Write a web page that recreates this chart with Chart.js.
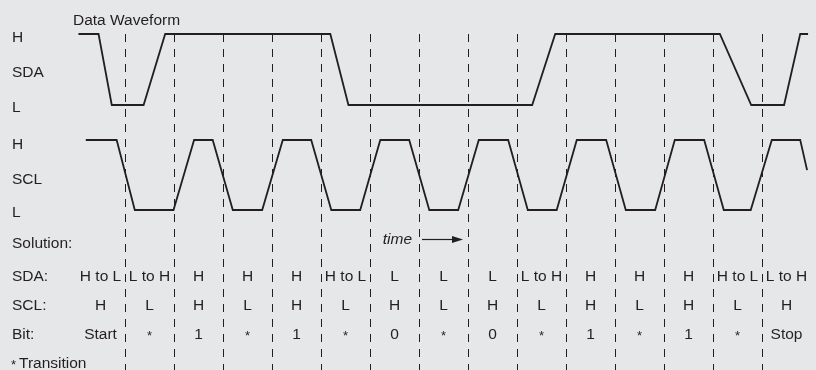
<!DOCTYPE html>
<html><head><meta charset="utf-8">
<style>html,body{margin:0;padding:0;background:#e6e7e9;}#wrap{width:816px;height:370px;position:relative;}</style>
<script src="https://cdn.jsdelivr.net/npm/chart.js@4.4.1/dist/chart.umd.min.js"></script>
</head><body><div id="wrap"><canvas id="c" width="816" height="370"></canvas></div>
<script>
// ---- data (time in bit-slot units, level 1 = H, 0 = L) ----
const sdaTime  = [0.05, 0.46, 0.73, 1.38, 1.82, 5.19, 5.56, 9.31, 9.78, 13.14, 13.78, 14.45, 14.78, 14.94];
const sdaLevel = [1, 1, 0, 0, 1, 1, 0, 0, 1, 1, 0, 0, 1, 1];
const sclTime  = [0.2, 0.83, 1.2, 1.99, 2.41, 2.79, 3.2, 3.8, 4.22, 4.8, 5.21, 5.8, 6.21, 6.8, 7.21, 7.8, 8.22, 8.82, 9.22, 9.81, 10.22, 10.82, 11.22, 11.82, 12.22, 12.82, 13.22, 13.77, 14.2, 14.78, 14.92];
const sclLevel = [1, 1, 0, 0, 1, 1, 0, 0, 1, 1, 0, 0, 1, 1, 0, 0, 1, 1, 0, 0, 1, 1, 0, 0, 1, 1, 0, 0, 1, 1, 0.57];
const dividers = [1, 2, 3, 4, 5, 6, 7, 8, 9, 10, 11, 12, 13, 14];
const sdaRow = ['H to L', 'L to H', 'H', 'H', 'H', 'H to L', 'L', 'L', 'L', 'L to H', 'H', 'H', 'H', 'H to L', 'L to H'];
const sclRow = ['H', 'L', 'H', 'L', 'H', 'L', 'H', 'L', 'H', 'L', 'H', 'L', 'H', 'L', 'H'];
const bitRow = ['Start', '*', '1', '*', '1', '*', '0', '*', '0', '*', '1', '*', '1', '*', 'Stop'];

const INK = '#231f20';
const FONT = '"Liberation Sans", Arial, Helvetica, sans-serif';
const FS = 15.5;

function pts(t, v) { return t.map((x, i) => ({x: x, y: v[i]})); }

const decor = {
  id: 'decor',
  beforeDatasetsDraw(chart) {
    const ctx = chart.ctx, xs = chart.scales.x, top = 34, bottom = chart.height;
    ctx.save();
    ctx.strokeStyle = INK; ctx.lineWidth = 1; ctx.setLineDash([8, 7]);
    dividers.forEach(t => {
      const px = Math.round(xs.getPixelForValue(t)) + 0.5;
      ctx.beginPath(); ctx.moveTo(px, top); ctx.lineTo(px, bottom); ctx.stroke();
    });
    ctx.restore();
  },
  afterDraw(chart) {
    const ctx = chart.ctx, xs = chart.scales.x;
    ctx.save();
    ctx.fillStyle = INK;
    const cap = FS * 0.716;
    function txt(s, x, yc, align, font) {
      ctx.font = font || (FS + 'px ' + FONT);
      ctx.textAlign = align || 'left';
      ctx.textBaseline = 'alphabetic';
      ctx.fillText(s, x, yc + cap / 2);
    }
    function star(x, yc, align) {
      ctx.font = '13px ' + FONT;
      ctx.textAlign = align || 'center';
      ctx.textBaseline = 'alphabetic';
      const m = ctx.measureText('*');
      ctx.fillText('*', x, yc + m.actualBoundingBoxAscent - (m.actualBoundingBoxAscent + m.actualBoundingBoxDescent) / 2);
    }
    txt('Data Waveform', 73, 19.5);
    [['H', 36], ['SDA', 71.5], ['L', 106.5], ['H', 143], ['SCL', 178.5], ['L', 211],
     ['Solution:', 242.5], ['SDA:', 275], ['SCL:', 304], ['Bit:', 333]].forEach(a => txt(a[0], 12, a[1]));
    const rows = [[sdaRow, 275], [sclRow, 304], [bitRow, 333]];
    rows.forEach(r => {
      r[0].forEach((s, k) => {
        const x = xs.getPixelForValue(k + 0.5);
        if (s === '*') star(x, r[1]); else txt(s, x, r[1], 'center');
      });
    });
    star(11, 362, 'left');
    txt('Transition', 19, 362);
    // time arrow
    txt('time', 412, 238, 'right', 'italic ' + FS + 'px ' + FONT);
    ctx.strokeStyle = INK; ctx.lineWidth = 1.2;
    ctx.beginPath(); ctx.moveTo(422, 239.5); ctx.lineTo(454, 239.5); ctx.stroke();
    ctx.beginPath(); ctx.moveTo(463, 239.5); ctx.lineTo(452, 236); ctx.lineTo(452, 243); ctx.closePath(); ctx.fill();
    ctx.restore();
  }
};

new Chart(document.getElementById('c'), {
  type: 'line',
  data: {
    datasets: [
      {label: 'SDA', data: pts(sdaTime, sdaLevel), yAxisID: 'ySDA', borderColor: INK, borderWidth: 1.8, pointRadius: 0, tension: 0, fill: false},
      {label: 'SCL', data: pts(sclTime, sclLevel), yAxisID: 'ySCL', borderColor: INK, borderWidth: 1.8, pointRadius: 0, tension: 0, fill: false}
    ]
  },
  options: {
    responsive: false, animation: false,
    layout: {padding: 0},
    plugins: {legend: {display: false}, tooltip: {enabled: false}},
    scales: {
      x: {type: 'linear', min: -76 / 49, max: 740 / 49, display: false},
      ySDA: {type: 'linear', min: 105 / 71 - 370 / 71, max: 105 / 71, display: false},
      ySCL: {type: 'linear', min: 210 / 70 - 370 / 70, max: 210 / 70, display: false}
    }
  },
  plugins: [decor]
});
</script></body></html>
